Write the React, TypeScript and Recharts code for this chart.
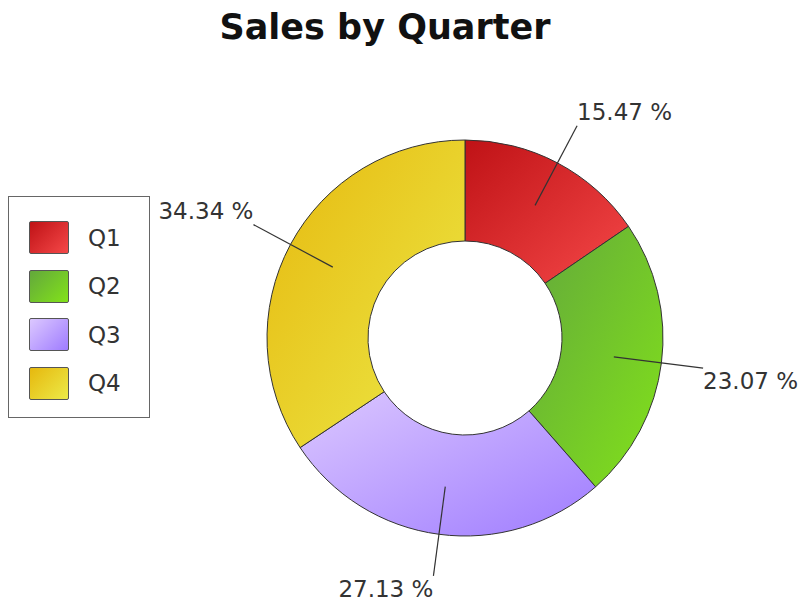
import React from 'react';
import { PieChart, Pie, Cell, Legend } from 'recharts';

const quarters = ['Q1', 'Q2', 'Q3', 'Q4'];
const sales = [15.47, 23.07, 27.13, 34.34];

// gradient stops per slice: [top-left, bottom-right]
const GRADS = [
  ['#bf1216', '#f54848'],
  ['#63a83c', '#82e21a'],
  ['#dcc8ff', '#9f7cff'],
  ['#e6b80e', '#ecea48'],
];

const data = quarters.map((q, i) => ({ name: q, value: sales[i] }));

const RADIAN = Math.PI / 180;

const renderLabel = (props: any) => {
  const { cx, cy, midAngle, outerRadius, percent } = props;
  const cos = Math.cos(-midAngle * RADIAN);
  const sin = Math.sin(-midAngle * RADIAN);
  const sx = cx + 150 * cos;
  const sy = cy + 150 * sin;
  const ex = cx + (outerRadius + 42) * cos;
  const ey = cy + (outerRadius + 42) * sin;
  const anchor = ex > cx ? 'start' : 'end';
  const ty = ey < cy ? ey - 14 : ey + 13;
  return (
    <g>
      <line x1={sx} y1={sy} x2={ex} y2={ey} stroke="#333" strokeWidth={1.2} />
      <text
        x={ex}
        y={ty}
        textAnchor={anchor}
        dominantBaseline="central"
        fill="#333"
        fontSize={23}
        fontFamily="DejaVu Sans, sans-serif"
      >
        {(percent * 100).toFixed(2) + ' %'}
      </text>
    </g>
  );
};

const LegendBox = () => (
  <div
    style={{
      width: 142,
      height: 222,
      boxSizing: 'border-box',
      border: '1.5px solid #666',
      background: '#fff',
      position: 'relative',
      fontFamily: 'DejaVu Sans, sans-serif',
    }}
  >
    {quarters.map((q, i) => (
      <div
        key={q}
        style={{ position: 'absolute', left: 20, top: 24 + i * 48.5, display: 'flex', alignItems: 'center' }}
      >
        <div
          style={{
            width: 40,
            height: 33,
            boxSizing: 'border-box',
            border: '1.5px solid #555',
            borderRadius: 2,
            background: `linear-gradient(135deg, ${GRADS[i][0]}, ${GRADS[i][1]})`,
          }}
        />
        <span style={{ marginLeft: 19, fontSize: 23, color: '#333' }}>{q}</span>
      </div>
    ))}
  </div>
);

export default function App() {
  return (
    <div style={{ position: 'absolute', left: 0, top: 0 }}>
      <PieChart width={799} height={602} margin={{ top: 0, right: 0, bottom: 0, left: 0 }}>
        <defs>
          {GRADS.map((g, i) => (
            <linearGradient key={i} id={`grad${i}`} x1="0" y1="0" x2="1" y2="1">
              <stop offset="0%" stopColor={g[0]} />
              <stop offset="100%" stopColor={g[1]} />
            </linearGradient>
          ))}
        </defs>
        <text
          x={385}
          y={27}
          textAnchor="middle"
          dominantBaseline="central"
          fontSize={35}
          fontWeight="bold"
          fontFamily="DejaVu Sans, sans-serif"
          fill="#111"
        >
          Sales by Quarter
        </text>
        <Pie
          data={data}
          dataKey="value"
          nameKey="name"
          cx={465}
          cy={338}
          innerRadius={97}
          outerRadius={198}
          startAngle={90}
          endAngle={-270}
          stroke="#333"
          strokeWidth={1}
          label={renderLabel}
          labelLine={false}
          isAnimationActive={false}
        >
          {data.map((entry, index) => (
            <Cell key={`cell-${index}`} fill={`url(#grad${index})`} />
          ))}
        </Pie>
        <Legend
          content={() => <LegendBox />}
          wrapperStyle={{ position: 'absolute', left: 8, top: 196, width: 142, height: 222 }}
        />
      </PieChart>
    </div>
  );
}
